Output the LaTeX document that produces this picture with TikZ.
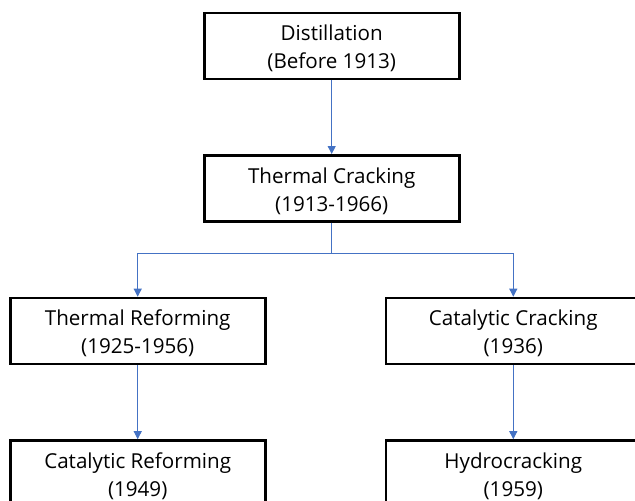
\documentclass[tikz,border=0pt]{standalone}
\usepackage{fontspec}
\setmainfont{Open Sans}
\usetikzlibrary{arrows.meta}
\definecolor{arrowblue}{HTML}{4472C4}
\begin{document}
\begin{tikzpicture}[x=1pt,y=-1pt,
  stagebox/.style={draw=black,line width=2.6pt,minimum width=255pt,minimum height=66pt,
    inner sep=0pt,fill=white},
  stagetext/.style={align=center,font=\fontsize{20.6}{28}\selectfont,inner sep=0pt},
  flow/.style={draw=arrowblue,line width=0.9pt,-{Triangle[length=8pt,width=8pt]}}]
\useasboundingbox (0,0) rectangle (635,501);
\fill[white] (0,0) rectangle (635,501);
\begin{scope}
\clip (0,0) rectangle (635,501);
\node[stagebox] (dist) at (331.7,46) {};
\node[stagebox] (tc) at (331.7,188.3) {};
\node[stagebox] (tr) at (137.7,331) {};
\node[stagebox] (cc) at (513.3,331) {};
\node[stagebox] (cr) at (137.7,473.5) {};
\node[stagebox] (hc) at (513.3,473.5) {};
\node[stagetext] (distT) at ([yshift=-2.5pt]dist.center) {Distillation\\(Before 1913)};
\node[stagetext] (tcT) at ([yshift=-2.5pt]tc.center) {Thermal Cracking\\(1913-1966)};
\node[stagetext] (trT) at ([yshift=-2.5pt]tr.center) {Thermal Reforming\\(1925-1956)};
\node[stagetext] (ccT) at ([yshift=-2.5pt]cc.center) {Catalytic Cracking\\(1936)};
\node[stagetext] (crT) at ([yshift=-2.5pt]cr.center) {Catalytic Reforming\\(1949)};
\node[stagetext] (hcT) at ([yshift=-2.5pt]hc.center) {Hydrocracking\\(1959)};
\coordinate (split) at (331.7,253.3);
\draw[flow] (dist) -- (tc);
\draw[flow] (tc.south) -- (split) -| (tr.north);
\draw[flow] (split) -| (cc.north);
\draw[flow] (tr) -- (cr);
\draw[flow] (cc) -- (hc);
\end{scope}
\end{tikzpicture}
\end{document}
